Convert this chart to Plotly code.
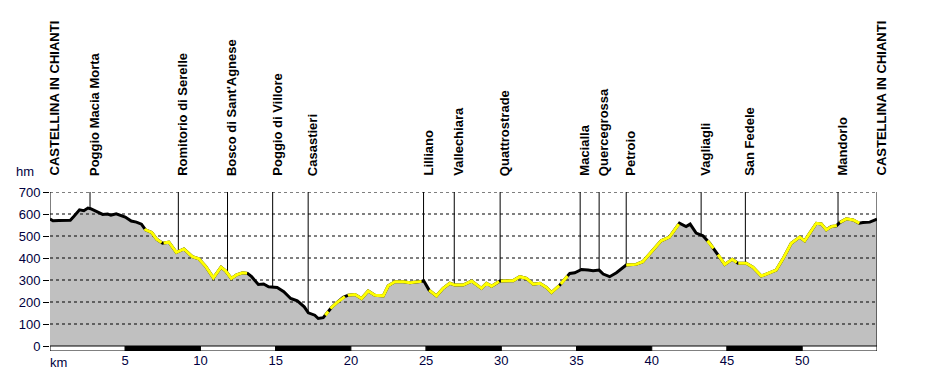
import numpy as np
import plotly.graph_objects as go

# ---------------- data ----------------
km = [0, 0.2, 0.6, 1.35, 1.58, 1.96, 2.25, 2.52, 2.7, 3.15, 3.5, 3.83, 4.05, 4.4, 4.73,
      5.0, 5.4, 5.74, 6.08, 6.35, 6.76, 7.1, 7.48, 7.9, 8.4, 8.9, 9.46, 9.9, 10.36, 10.86,
      11.37, 11.67, 12.05, 12.4, 12.8, 13.13, 13.4, 13.85, 14.2, 14.53, 15.1, 15.54, 16.0,
      16.44, 16.9, 17.17, 17.6, 17.83, 18.16, 18.4, 18.71, 19.05, 19.49, 19.82, 20.27, 20.71,
      21.15, 21.6, 22.15, 22.48, 22.93, 23.48, 23.92, 24.48, 24.85, 25.2, 25.69, 26.13, 26.58,
      26.91, 27.46, 28.02, 28.68, 29.01, 29.35, 29.9, 30.35, 30.79, 31.23, 31.67, 32.12, 32.56,
      33.0, 33.33, 33.89, 34.33, 34.55, 34.88, 35.33, 35.77, 36.1, 36.5, 36.77, 37.2, 37.65,
      38.3, 38.96, 39.4, 40.07, 40.62, 41.17, 41.84, 42.28, 42.55, 42.95, 43.4, 43.85, 44.29,
      44.85, 45.35, 45.73, 46.28, 46.72, 47.28, 47.83, 48.27, 48.72, 49.27, 49.83, 50.16, 50.5,
      50.94, 51.27, 51.6, 51.94, 52.27, 52.49, 52.93, 53.38, 53.78, 54.04, 54.49, 54.97]
elev = [577, 569, 570, 572, 589, 619, 615, 627, 624, 609, 598, 600, 595, 601, 593,
        586, 568, 563, 554, 528, 516, 485, 467, 472, 426, 441, 406, 396, 361, 310,
        358, 342, 307, 323, 333, 330, 315, 280, 282, 269, 266, 247, 216,
        205, 178, 151, 140, 125, 129, 148, 175, 196, 221, 231, 234, 216,
        250, 231, 228, 274, 292, 292, 288, 292, 295, 254, 228, 262, 285,
        277, 277, 295, 262, 285, 272, 295, 297, 297, 315, 307, 281, 285,
        266, 243, 277, 312, 330, 333, 348, 345, 342, 345, 327, 315, 333,
        368, 371, 383, 434, 478, 495, 558, 543, 554, 513, 501, 467, 426,
        371, 394, 376, 376, 358, 318, 333, 345, 396, 467, 495, 478, 513,
        558, 555, 528, 543, 546, 561, 578, 573, 558, 561, 563, 577]

# unpaved (yellow) stretches, km from-to
unpaved_from = [6.3, 7.55, 18.3, 18.65, 19.8, 25.2, 29.97, 33.95, 38.3, 43.7, 44.4, 45.75, 52.5]
unpaved_to = [7.42, 13.1, 18.5, 19.6, 24.7, 29.85, 33.85, 34.4, 41.8, 44.1, 45.65, 52.3, 53.8]

place_names = ["CASTELLINA IN CHIANTI", "Poggio Macia Morta", "Romitorio di Serelle",
               "Bosco di Sant'Agnese", "Poggio di Villore", "Casastieri", "Lilliano",
               "Vallechiara", "Quattrostrade", "Macialla", "Quercegrossa", "Petroio",
               "Vagliagli", "San Fedele", "Mandorlo", "CASTELLINA IN CHIANTI"]
place_km = [0, 2.66, 8.53, 11.8, 14.8, 17.16, 24.83, 26.87, 29.92, 35.24, 36.5, 38.3,
            43.28, 46.22, 52.38, 54.97]

y_ticks = [0, 100, 200, 300, 400, 500, 600, 700]
x_ticks = [5, 10, 15, 20, 25, 30, 35, 40, 45, 50]
# ----------------------------------------

FONT = "Arial, Liberation Sans, sans-serif"
TXT = "#000040"
km_a = np.array(km)
el_a = np.array(elev)
xmax = km[-1]
ymax = y_ticks[-1]
bar_h = 22.7
ybottom = -bar_h

fig = go.Figure()

# filled profile
fig.add_trace(go.Scatter(x=km, y=elev, mode="lines", fill="tozeroy",
                         fillcolor="#C0C0C0", line=dict(width=0, color="#C0C0C0"),
                         hoverinfo="skip", showlegend=False))

# dashed grid
for v in y_ticks[1:]:
    fig.add_trace(go.Scatter(x=[0, xmax], y=[v, v], mode="lines",
                             line=dict(color="black", width=1, dash="3px,3px"),
                             hoverinfo="skip", showlegend=False))

# place lines
for i, (nm, k) in enumerate(zip(place_names, place_km)):
    e = float(np.interp(k, km_a, el_a))
    y0 = ybottom if i == len(place_km) - 1 else e
    fig.add_trace(go.Scatter(x=[k, k], y=[y0, ymax], mode="lines",
                             line=dict(color="black", width=1),
                             hoverinfo="skip", showlegend=False))
    fig.add_annotation(x=k, y=ymax, xref="x", yref="y", text="<b>" + nm + "</b>",
                       textangle=-90, showarrow=False, xanchor="center", yanchor="bottom",
                       xshift=4, yshift=14, font=dict(family=FONT, size=13, color="black"))

# profile line: black base then yellow stretches
fig.add_trace(go.Scatter(x=km, y=elev, mode="lines", line=dict(color="black", width=3),
                         hoverinfo="skip", showlegend=False))
for a, b in zip(unpaved_from, unpaved_to):
    inner = (km_a > a) & (km_a < b)
    xs = np.concatenate([[a], km_a[inner], [b]])
    ys = np.interp(xs, km_a, el_a)
    fig.add_trace(go.Scatter(x=xs, y=ys, mode="lines", line=dict(color="#FFFF00", width=3),
                             hoverinfo="skip", showlegend=False))

# km scale bar
edges = [0] + x_ticks + [xmax]
for i in range(len(edges) - 1):
    fill = "white" if i % 2 == 0 else "black"
    fig.add_shape(type="rect", xref="x", yref="y", x0=edges[i], x1=edges[i + 1],
                  y0=ybottom, y1=0, fillcolor=fill, line=dict(color="black", width=1),
                  layer="above")

fig.add_annotation(x=0, y=ybottom, xref="x", yref="y", text="km", showarrow=False,
                   xanchor="left", yanchor="top", yshift=-2, xshift=-2,
                   font=dict(family=FONT, size=13, color=TXT))
fig.add_annotation(x=0, y=ymax, xref="x", yref="y", text="hm", showarrow=False,
                   xanchor="right", yanchor="bottom", xshift=-14, yshift=11,
                   font=dict(family=FONT, size=13, color=TXT))

fig.update_layout(
    width=927, height=371,
    margin=dict(l=50, r=50, t=192, b=20, autoexpand=False),
    plot_bgcolor="white", paper_bgcolor="white",
    showlegend=False,
    font=dict(family=FONT, size=13, color=TXT),
    xaxis=dict(range=[0, xmax], tickvals=x_ticks, ticktext=[str(t) for t in x_ticks],
               showgrid=False, zeroline=False, showline=False, ticks="",
               automargin=False,
               tickfont=dict(family=FONT, size=13, color=TXT), fixedrange=True),
    yaxis=dict(range=[ybottom, ymax], tickvals=y_ticks, showgrid=False, zeroline=False,
               showline=False, ticks="outside", ticklen=6, tickcolor="black",
               automargin=False,
               tickfont=dict(family=FONT, size=13, color=TXT), fixedrange=True),
)

fig.write_html("out.html", config={"displayModeBar": False},
               post_script="document.body.style.margin='0';document.body.style.overflow='hidden';")
